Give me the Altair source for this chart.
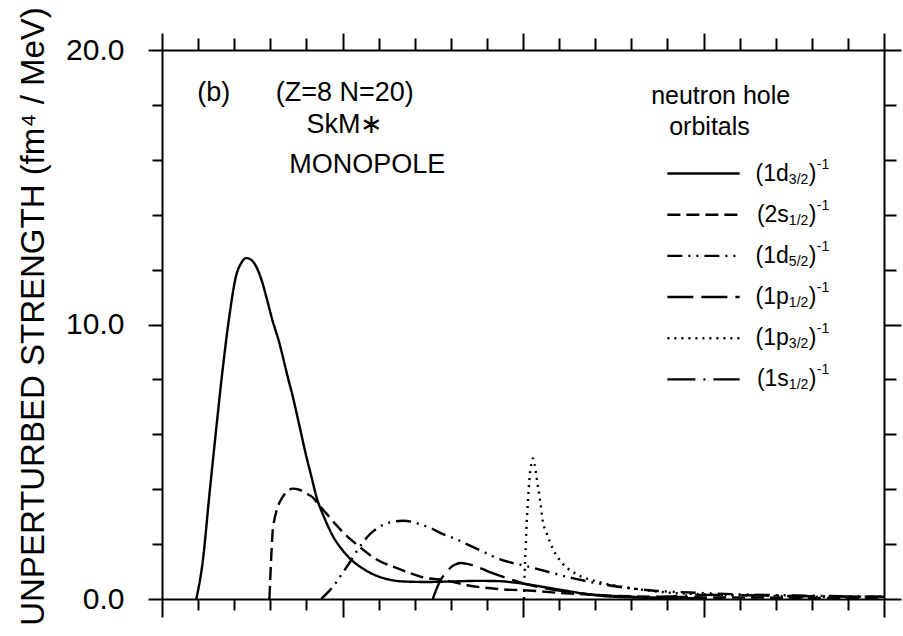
import altair as alt
import pandas as pd

FONT = "Liberation Sans"

orbitals = ["(1d3/2)-1", "(2s1/2)-1", "(1d5/2)-1", "(1p1/2)-1", "(1p3/2)-1", "(1s1/2)-1"]
label_main = ["(1d", "(2s", "(1d", "(1p", "(1p", "(1s"]
label_sub = ["3/2", "1/2", "5/2", "1/2", "3/2", "1/2"]
dashes = [[1, 0], [13, 6], [15, 6, 2, 6, 2, 6], [26, 8], [2, 5], [28, 8, 2, 8]]

# energy (MeV) and strength values
e_1d32 = [1.9, 2.25, 2.62, 3.0, 3.36, 3.73, 4.1, 4.4, 4.66, 4.95, 5.21, 5.5, 5.77, 6.1, 6.5, 7.0,
          7.24, 7.6, 7.99, 8.3, 8.54, 9.0, 9.46, 10.0, 10.57, 11.2, 11.87, 12.5, 13.35, 14.64,
          16.1, 17.5, 18.7, 19.5, 20.1, 21.3, 22.4, 23.3, 24.25, 25.5, 26.5, 28.0, 30.0]
s_1d32 = [0.0, 1.33, 3.76, 6.18, 8.36, 10.3, 11.76, 12.25, 12.42, 12.35, 12.12, 11.65, 11.03, 10.2,
          9.33, 8.0, 7.39, 6.35, 5.21, 4.4, 3.76, 2.95, 2.3, 1.78, 1.38, 1.08, 0.85, 0.72, 0.64,
          0.62, 0.64, 0.66, 0.65, 0.6, 0.55, 0.42, 0.3, 0.2, 0.12, 0.07, 0.05, 0.03, 0.02]

e_2s12 = [5.95, 6.05, 6.14, 6.23, 6.41, 6.69, 6.95, 7.24, 7.6, 7.99, 8.35, 8.72, 9.1, 9.65, 10.0,
          10.76, 11.87, 13.16, 14.45, 15.75, 16.9, 18.7, 20.5, 22.0, 24.0, 26.0, 28.0, 30.0, 33.0,
          36.0, 40.0]
s_2s12 = [0.0, 1.5, 2.55, 2.9, 3.35, 3.72, 3.93, 4.02, 3.98, 3.85, 3.7, 3.4, 3.12, 2.7, 2.45,
          2.0, 1.45, 1.09, 0.79, 0.67, 0.5, 0.36, 0.3, 0.22, 0.15, 0.1, 0.08, 0.06, 0.05, 0.04, 0.03]

e_1d52 = [8.82, 9.2, 9.65, 10.0, 10.4, 10.8, 11.13, 11.5, 11.87, 12.3, 12.79, 13.35, 13.8, 14.27,
          15.0, 15.38, 16.3, 16.88, 17.8, 18.7, 20.1, 21.5, 22.8, 24.3, 25.6, 27.0, 29.8, 32.0,
          35.0, 38.0, 40.0]
s_1d52 = [0.0, 0.25, 0.6, 0.95, 1.33, 1.75, 2.06, 2.35, 2.55, 2.72, 2.81, 2.85, 2.82, 2.73, 2.55,
          2.42, 2.18, 2.0, 1.72, 1.45, 1.21, 0.97, 0.75, 0.55, 0.42, 0.32, 0.22, 0.17, 0.13, 0.1, 0.09]

e_1p12 = [15.0, 15.2, 15.47, 15.75, 16.0, 16.3, 16.55, 16.9, 17.3, 17.78, 18.2, 18.7, 19.4, 20.1,
          21.0, 22.0, 23.0, 24.5, 26.0, 28.0, 31.0]
s_1p12 = [0.0, 0.35, 0.73, 0.97, 1.15, 1.27, 1.31, 1.28, 1.2, 1.09, 0.97, 0.85, 0.7, 0.55, 0.42,
          0.31, 0.22, 0.13, 0.08, 0.04, 0.02]

e_1p32 = [20.05, 20.09, 20.14, 20.18, 20.27, 20.37, 20.47, 20.55, 20.63, 20.74, 20.96, 21.11,
          21.3, 21.66, 22.22, 22.96, 24.25, 25.73, 27.95, 30.0, 33.0, 36.0, 40.0]
s_1p32 = [0.0, 0.97, 1.7, 2.42, 3.52, 4.48, 4.95, 5.12, 4.95, 4.48, 3.52, 2.79, 2.42, 1.82, 1.27,
          0.91, 0.61, 0.42, 0.24, 0.17, 0.12, 0.09, 0.07]

e_1s12 = [27.0, 28.0, 29.0, 30.0, 32.0, 34.0, 36.0, 38.0, 40.0]
s_1s12 = [0.0, 0.08, 0.13, 0.15, 0.14, 0.12, 0.1, 0.09, 0.08]

# legend placement (data units)
legend_y = [15.5, 14.0, 12.5, 11.0, 9.5, 8.0]
legend_x0, legend_x1, legend_xt = 28.0, 32.0, 32.9

series = [(orbitals[0], e_1d32, s_1d32), (orbitals[1], e_2s12, s_2s12),
          (orbitals[2], e_1d52, s_1d52), (orbitals[3], e_1p12, s_1p12),
          (orbitals[4], e_1p32, s_1p32), (orbitals[5], e_1s12, s_1s12)]
rows = []
for name, es, ss in series:
    for i, (e, s) in enumerate(zip(es, ss)):
        rows.append({"orbital": name, "E": e, "S": s, "i": i})
df = pd.DataFrame(rows)

leg = pd.DataFrame({"orbital": orbitals, "main": label_main, "sub": label_sub,
                    "close": [")"] * 6, "sup": ["-1"] * 6, "y": legend_y,
                    "x0": [legend_x0] * 6, "x1": [legend_x1] * 6, "xt": [legend_xt] * 6})

notes = pd.DataFrame({
    "text": ["(b)", "(Z=8  N=20)", "SkM∗", "MONOPOLE"],
    "x": [1.95, 6.3, 8.0, 7.05],
    "y": [18.45, 18.45, 17.28, 15.8],
})
notes2 = pd.DataFrame({
    "text": ["neutron hole", "orbitals"],
    "x": [27.1, 28.1],
    "y": [18.33, 17.2],
})

xscale = alt.Scale(domain=[0, 40], nice=False, zero=False)
yscale = alt.Scale(domain=[0, 20], nice=False, zero=False)
dash_scale = alt.Scale(domain=orbitals, range=dashes)

major = "datum.value % 10 === 0"
xvals = list(range(0, 41, 2))
yvals = list(range(0, 21, 2))

axis_common = dict(domainColor="black", domainWidth=2, tickColor="black", tickWidth=2,
                   grid=False, labelFont=FONT, labelColor="black", titleFont=FONT,
                   titleColor="black")

x_bottom = alt.Axis(values=xvals, labels=False, title=None, orient="bottom",
                    tickSize={"condition": {"test": major, "value": 18}, "value": 11},
                    **axis_common)
x_top = alt.Axis(values=xvals, labels=False, title=None, orient="top",
                 tickSize={"condition": {"test": major, "value": 17}, "value": 12},
                 **axis_common)
y_left = alt.Axis(values=yvals, orient="left",
                  labelExpr="datum.value % 10 === 0 ? format(datum.value, '.1f') : ''",
                  labelFontSize=30, labelPadding=24, labelOverlap=False, labelFlush=False,
                  tickSize={"condition": {"test": major, "value": 14}, "value": 10},
                  title="UNPERTURBED STRENGTH (fm⁴ / MeV)", titleFontSize=33,
                  titleFontWeight="normal", titleAngle=270, titleX=-119, titleY=266,
                  titleAlign="center", titleBaseline="alphabetic", **axis_common)
y_right = alt.Axis(values=yvals, labels=False, title=None, orient="right",
                   tickSize={"condition": {"test": major, "value": 17}, "value": 12},
                   **axis_common)

curves = alt.Chart(df).mark_line(color="black", strokeWidth=2.4, interpolate="monotone").encode(
    x=alt.X("E:Q", scale=xscale, axis=x_bottom),
    y=alt.Y("S:Q", scale=yscale, axis=y_left),
    strokeDash=alt.StrokeDash("orbital:N", scale=dash_scale, legend=None),
    detail="orbital:N",
    order="i:Q",
)

frame = alt.Chart(df).mark_line(opacity=0).encode(
    x=alt.X("E:Q", scale=xscale, axis=x_top),
    y=alt.Y("S:Q", scale=yscale, axis=y_right),
    detail="orbital:N",
)

leg_lines = alt.Chart(leg).mark_rule(color="black", strokeWidth=2.4).encode(
    x=alt.X("x0:Q", scale=xscale, axis=None),
    x2="x1:Q",
    y=alt.Y("y:Q", scale=yscale, axis=None),
    strokeDash=alt.StrokeDash("orbital:N", scale=dash_scale, legend=None),
)


def leg_part(field, size, dx, dy, align):
    return alt.Chart(leg).mark_text(align=align, baseline="middle", font=FONT, fontSize=size,
                                    color="black", dx=dx, dy=dy).encode(
        x=alt.X("xt:Q", scale=xscale, axis=None),
        y=alt.Y("y:Q", scale=yscale, axis=None),
        text=f"{field}:N",
    )


leg_main = leg_part("main", 23, 33, 0, "right")
leg_sub = leg_part("sub", 14, 33, 6, "left")
leg_close = leg_part("close", 23, 53, 0, "left")
leg_sup = leg_part("sup", 14, 61, -9, "left")

note_text = alt.Chart(notes).mark_text(align="left", baseline="middle", font=FONT, fontSize=27,
                                       color="black").encode(
    x=alt.X("x:Q", scale=xscale, axis=None),
    y=alt.Y("y:Q", scale=yscale, axis=None),
    text="text:N",
)
note_text2 = alt.Chart(notes2).mark_text(align="left", baseline="middle", font=FONT, fontSize=25,
                                         color="black").encode(
    x=alt.X("x:Q", scale=xscale, axis=None),
    y=alt.Y("y:Q", scale=yscale, axis=None),
    text="text:N",
)

chart = alt.layer(curves, frame, leg_lines, leg_main, leg_sub, leg_close, leg_sup,
                  note_text, note_text2).resolve_axis(
    x="independent", y="independent"
).properties(
    width=722, height=549,
    autosize=alt.AutoSizeParams(type="none"),
    padding={"left": 162, "top": 50, "right": 19, "bottom": 37},
    background="white",
).configure_view(stroke=None)

chart.save("out.html", embed_options={"renderer": "svg", "actions": False})
